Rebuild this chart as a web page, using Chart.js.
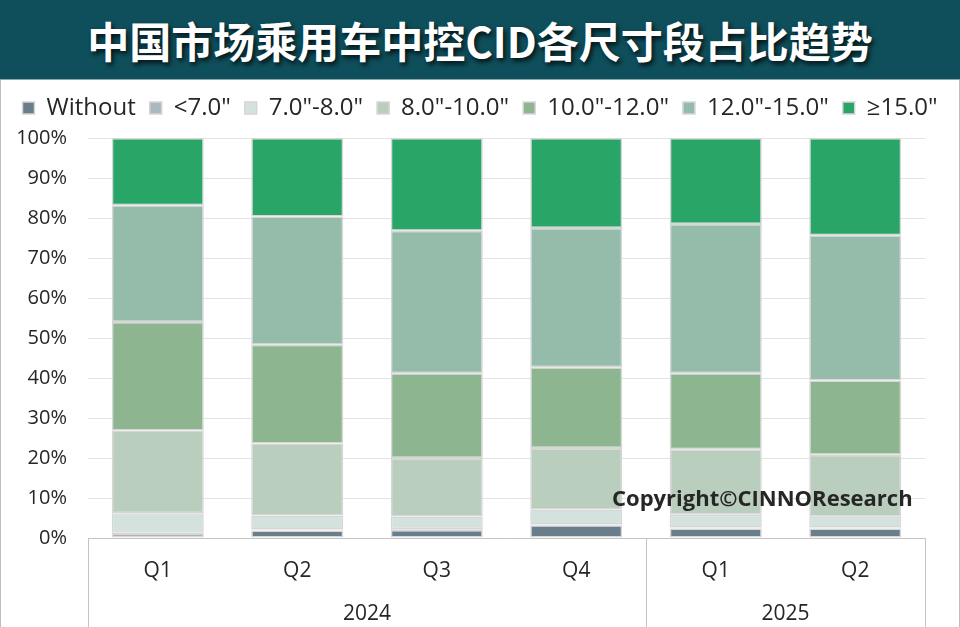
<!DOCTYPE html>
<html>
<head>
<meta charset="utf-8">
<script src="https://cdn.jsdelivr.net/npm/chart.js@4.4.1/dist/chart.umd.min.js"></script>
<style>
  html, body { margin: 0; padding: 0; background: #fff; }
  #wrap { position: relative; width: 960px; height: 627px; overflow: hidden; }
  #title {
    position: absolute; left: 0; top: 0; width: 960px; height: 80px;
    background: #0f4f5b; border-bottom: 1px solid #8aa7ad; box-sizing: border-box;
    color: #fff; font-family: "Noto Sans CJK SC", sans-serif; font-weight: 700;
    font-size: 42px; line-height: 80px; text-align: center;
    text-shadow: 2px 3px 5px rgba(0,0,0,0.8);
  }
  #frame {
    position: absolute; left: 0; top: 80px; width: 960px; height: 547px;
    border-left: 1px solid #bdbdbd; border-right: 1px solid #bdbdbd; box-sizing: border-box;
  }
  #box { position: absolute; left: 0; top: 80px; width: 960px; height: 547px; }
  #cid { display: block; }
</style>
</head>
<body>
<div id="wrap">
  <div id="title">中国市场乘用车中控CID各尺寸段占比趋势</div>
  <div id="frame"></div>
  <div id="box"><canvas id="cid" width="960" height="547"></canvas></div>
</div>
<script>
// 季度 / 年份
const quarters = ["Q1", "Q2", "Q3", "Q4", "Q1", "Q2"];
const years = ["2024", "2024", "2024", "2024", "2025", "2025"];

// 各尺寸段占比 (%)
const sizeNames = ["Without", "<7.0\"", "7.0\"-8.0\"", "8.0\"-10.0\"", "10.0\"-12.0\"", "12.0\"-15.0\"", "≥15.0\""];
const sizeColors = ["#687f8b", "#a9b9bf", "#d3e2dc", "#b9cebd", "#8db58f", "#95bcab", "#28a567"];
const without = [1.0, 1.9, 2.0, 3.2, 2.4, 2.4];
const under7 = [0.3, 0.2, 0.2, 0.2, 0.2, 0.2];
const s7to8 = [4.9, 3.5, 3.2, 3.7, 3.2, 2.7];
const s8to10 = [20.7, 18.0, 14.6, 15.4, 16.4, 15.5];
const s10to12 = [27.1, 24.7, 21.2, 20.2, 19.0, 18.6];
const s12to15 = [29.2, 32.1, 35.6, 34.8, 37.3, 36.3];
const over15 = [16.8, 19.6, 23.2, 22.5, 21.5, 24.3];

const yTicks = [0, 10, 20, 30, 40, 50, 60, 70, 80, 90, 100];

const series = [without, under7, s7to8, s8to10, s10to12, s12to15, over15];
const FONT = "'Open Sans', 'Noto Sans', sans-serif";

// 年份分组 + 分隔线 + 版权
const groupAxis = {
  id: "groupAxis",
  afterDraw(chart) {
    const ctx = chart.ctx;
    const x = chart.scales.x;
    const top = chart.chartArea.bottom;
    const bottom = chart.height;
    const lines = [x.left, x.right];
    const groups = [];
    let start = 0;
    for (let i = 1; i <= years.length; i++) {
      if (i === years.length || years[i] !== years[start]) {
        const l = start === 0 ? x.left : (x.getPixelForValue(start - 1) + x.getPixelForValue(start)) / 2;
        const r = i === years.length ? x.right : (x.getPixelForValue(i - 1) + x.getPixelForValue(i)) / 2;
        if (i < years.length) lines.push(r);
        groups.push({ name: years[start], c: (l + r) / 2 });
        start = i;
      }
    }
    ctx.save();
    ctx.strokeStyle = "#c4c4c4";
    ctx.lineWidth = 1;
    lines.forEach(px => {
      ctx.beginPath();
      ctx.moveTo(Math.round(px) + 0.5, top);
      ctx.lineTo(Math.round(px) + 0.5, bottom);
      ctx.stroke();
    });
    ctx.fillStyle = "#262626";
    ctx.font = "21px " + FONT;
    ctx.textAlign = "center";
    ctx.textBaseline = "middle";
    groups.forEach(g => ctx.fillText(g.name, g.c, 534));

    ctx.font = "bold 22px " + FONT;
    ctx.textAlign = "left";
    ctx.fillStyle = "#262626";
    ctx.fillText("Copyright©CINNOResearch", 612, 420);
    ctx.restore();
  }
};

const legendHeight = {
  id: "legendHeight",
  beforeInit(chart) {
    const fit = chart.legend.fit;
    chart.legend.fit = function () {
      fit.bind(chart.legend)();
      this.height = 56;
    };
  }
};

new Chart(document.getElementById("cid"), {
  type: "bar",
  data: {
    labels: quarters,
    datasets: series.map((vals, i) => ({
      label: sizeNames[i],
      data: vals,
      backgroundColor: sizeColors[i],
      borderColor: "#d6d6d6",
      borderWidth: 1.5,
      borderSkipped: false,
      categoryPercentage: 1,
      barPercentage: 0.66
    }))
  },
  options: {
    responsive: false,
    animation: false,
    devicePixelRatio: 1,
    layout: { padding: { top: 2, left: 0, right: 0, bottom: 0 } },
    plugins: {
      tooltip: { enabled: false },
      legend: {
        position: "top",
        labels: {
          boxWidth: 12,
          boxHeight: 12,
          padding: 14,
          color: "#262626",
          font: { family: FONT, size: 24 }
        }
      }
    },
    scales: {
      x: {
        stacked: true,
        grid: { display: false },
        border: { display: false },
        ticks: { color: "#262626", font: { family: FONT, size: 21 }, padding: 12, maxRotation: 0 },
        afterFit(s) { s.height = 89; }
      },
      y: {
        stacked: true,
        min: 0,
        max: 100,
        afterBuildTicks(s) { s.ticks = yTicks.map(v => ({ value: v })); },
        grid: {
          color: c => (c.tick.value === 0 ? "#c4c4c4" : "#e4e4e4"),
          drawTicks: false,
          lineWidth: 1
        },
        border: { display: false },
        ticks: {
          color: "#262626",
          font: { family: FONT, size: 20 },
          padding: 21,
          callback: v => v + "%"
        },
        afterFit(s) { s.width = 88; }
      },
      // 右侧留白
      yRight: {
        position: "right",
        grid: { display: false },
        border: { display: false },
        ticks: { display: false },
        afterFit(s) { s.width = 35; }
      }
    }
  },
  plugins: [legendHeight, groupAxis]
});
</script>
</body>
</html>
